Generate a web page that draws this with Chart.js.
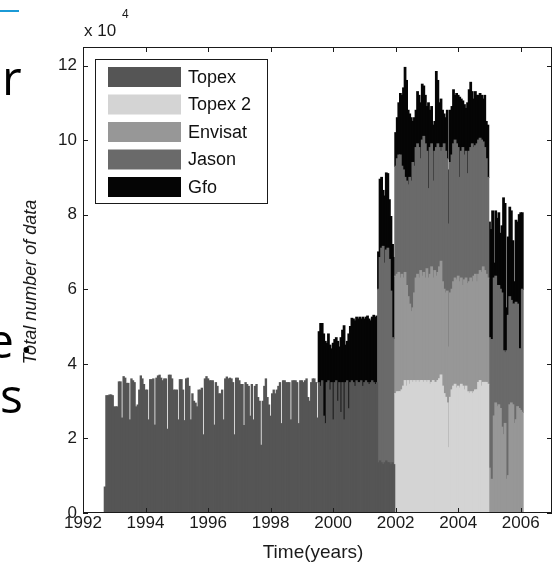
<!DOCTYPE html>
<html>
<head>
<meta charset="utf-8">
<script src="https://cdn.jsdelivr.net/npm/chart.js@4.4.0/dist/chart.umd.min.js"></script>
<style>
  html, body { margin: 0; padding: 0; background: #fff; }
  #wrap { position: relative; width: 559px; height: 565px; }
</style>
</head>
<body>
<div id="wrap"><canvas id="dataChart" width="559" height="565"></canvas></div>
<script>
// Total number of altimeter data per 0.05 yr bin, in units of 10^4
var seriesNames = ['Topex', 'Topex 2', 'Envisat', 'Jason', 'Gfo'];
var seriesColors = ['#555555', '#d4d4d4', '#979797', '#6a6a6a', '#050505'];
var seriesStart = [1992.70, 2002.00, 2002.00, 2001.45, 1999.55];  // first bin of each series

var xTicks = [1992, 1994, 1996, 1998, 2000, 2002, 2004, 2006];
var yTicks = [0, 2, 4, 6, 8, 10, 12];

var topex = [
    0.7, 3.15, 3.15, 3.17, 3.17, 3.15, 2.85, 2.85, 2.85, 3.52,
    3.52, 2.55, 3.66, 3.62, 3.48, 3.48, 2.5, 3.6, 3.55, 3.5,
    2.85, 2.9, 3.3, 3.68, 3.6, 3.45, 3.3, 3.3, 2.5, 3.58,
    3.58, 3.6, 2.36, 3.62, 3.68, 3.7, 3.62, 3.55, 3.6, 3.6,
    2.25, 3.7, 3.7, 3.6, 3.3, 3.3, 3.3, 2.5, 3.58, 3.58,
    3.3, 2.48, 3.6, 3.62, 3.4, 2.5, 3.2, 3.0, 2.95, 2.85,
    3.3, 3.3, 3.35, 2.1, 3.6, 3.66, 3.6, 3.55, 3.55, 3.55,
    2.36, 3.5, 3.4, 3.2, 3.2, 3.3, 2.5, 3.6, 3.65, 3.6,
    3.62, 3.6, 3.5, 2.1, 3.62, 3.62, 3.55, 3.45, 3.45, 2.35,
    3.5, 3.45, 3.4, 2.6, 3.45, 2.5, 3.4, 3.45, 3.1, 3.0,
    1.82, 3.0, 3.4, 3.6, 3.1, 2.9, 2.6, 3.2, 3.3, 3.2,
    3.3, 3.4, 3.5, 2.4, 3.55, 3.55, 3.5, 3.5, 3.5, 2.5,
    3.55, 3.55, 3.55, 3.5, 2.4, 3.55, 3.55, 3.5, 3.55, 3.6,
    3.1, 3.0, 3.5, 3.6, 3.6, 3.5, 2.55, 3.5, 3.4, 3.55,
    2.6, 2.4, 3.5, 3.55, 3.3, 3.5, 2.5, 3.5, 3.55, 3.0,
    3.5, 2.7, 3.5, 2.5, 3.5, 3.55, 2.8, 3.5, 3.55, 3.5,
    3.4, 3.55, 3.5, 3.5, 3.55, 3.4, 3.5, 3.55, 3.5, 3.45,
    3.5, 3.55, 3.5, 3.45, 3.5, 1.35, 1.4, 1.35, 1.3, 1.35,
    1.4, 1.35, 1.35, 1.3, 1.35, 1.3
];

var topex2 = [
    3.2, 3.25, 3.25, 3.25, 3.3, 3.4, 3.55, 3.4, 3.55, 3.45,
    3.55, 3.5, 3.55, 3.5, 3.55, 3.5, 3.55, 3.55, 3.5, 3.55,
    3.5, 3.55, 3.45, 3.5, 3.55, 3.5, 3.5, 3.55, 3.6, 3.7,
    3.4, 3.2, 3.1, 2.95, 1.75, 3.1, 3.3, 3.4, 3.45, 3.35,
    3.4, 3.35, 3.45, 3.4, 3.3, 3.4, 3.25, 3.2, 3.25, 3.2,
    3.25, 3.3, 3.3, 3.5, 3.55, 3.4, 3.5, 3.5, 3.5, 3.45
];

var envisat = [
    3.15, 3.15, 3.2, 3.05, 3.1, 2.9, 2.9, 2.7, 2.25, 2.15,
    1.85, 2.0, 2.35, 2.8, 2.85, 2.8, 2.95, 2.8, 2.95, 2.75,
    3.05, 2.75, 2.95, 3.1, 2.75, 3.0, 2.85, 2.9, 3.0, 3.05,
    2.8, 2.8, 2.8, 3.0, 2.7, 2.8, 2.7, 2.8, 2.85, 2.9,
    2.95, 2.85, 2.85, 2.7, 2.95, 2.9, 2.9, 3.0, 3.05, 3.0,
    3.1, 3.1, 2.9, 2.9, 2.95, 3.05, 3.1, 3.0, 2.9, 2.85,
    1.2, 0.9, 0.9, 2.6, 2.95, 2.85, 2.9, 2.8, 2.3, 2.1,
    2.4, 0.9, 1.0, 2.9, 2.95, 2.9, 2.4, 2.5, 2.85, 2.8,
    2.75, 2.7
];

var jason = [
    4.65, 5.45, 5.75, 5.85, 5.35, 5.65, 5.75, 5.45, 4.65, 3.35,
    3.35,
    2.95, 3.1, 3.15, 3.3, 2.9, 2.9, 2.55, 2.8, 3.0, 3.4,
    3.5, 3.9, 3.4, 3.5, 3.5, 3.5, 3.0, 3.65, 3.65, 3.6,
    3.15, 2.4, 3.4, 3.3, 2.6, 3.2, 3.45, 3.45, 3.2, 2.95,
    3.6, 3.9, 3.8, 3.55, 3.3, 3.5, 3.6, 3.7, 3.7, 3.65,
    3.45, 2.8, 3.4, 3.7, 3.35, 3.4, 2.95, 3.5, 3.5, 3.7,
    3.45, 3.45, 3.7, 3.6, 3.55, 3.55, 3.35, 3.3, 3.1, 2.7,
    3.5, 3.75, 3.75, 3.7, 3.4, 3.25, 3.2, 3.2, 3.6, 2.25,
    1.9, 3.45, 4.3, 2.9, 2.75, 2.7, 3.2, 3.15, 2.75, 1.6,
    1.65, 3.3
];

var gfo = [
    1.36, 1.68, 1.53, 2.2, 2.2, 1.05, 1.25, 1.2, 0.9, 2.05,
    1.15, 1.15, 1.6, 0.95, 2.0, 1.4, 2.52, 1.0, 1.05, 2.0,
    1.5, 1.67, 1.7, 1.75, 1.7, 1.7, 1.75, 1.65, 1.85, 1.7,
    1.7, 1.78, 1.75, 1.65, 1.7, 1.8, 1.8, 1.78, 1.0, 2.1,
    1.9, 1.5, 1.8, 2.07, 2.0, 1.6, 2.0, 2.5, 2.2,
    0.9, 1.1, 1.4, 1.65, 1.9, 2.2, 2.95, 2.7, 2.0, 1.7,
    1.7, 1.1, 1.3, 1.0, 1.4, 1.4, 1.5, 1.5, 1.35, 1.3,
    1.2, 2.3, 1.0, 1.0, 1.5, 0.8, 2.04, 1.7, 1.2, 1.4,
    1.0, 0.8, 0.9, 1.3, 1.45, 1.4, 1.3, 1.45, 1.2, 1.35,
    1.4, 2.15, 1.4, 1.25, 1.35, 1.15, 1.9, 1.65, 1.75, 1.4,
    1.3, 1.45, 1.3, 1.2, 1.2, 1.2, 1.15, 1.4, 1.0, 1.4,
    3.1, 2.95, 3.45, 0.4, 1.75, 1.8, 1.95, 1.5, 1.8, 4.1,
    4.0, 1.15, 2.1, 2.4, 2.4, 1.7, 0.6, 2.2, 2.2, 3.6,
    3.65, 2.05
];

var seriesValues = [topex, topex2, envisat, jason, gfo];

// same integer bin -> identical x, so the bars stack
function toPoints(start, values) {
    var first = Math.round((start - 1992) * 20);
    return values.map(function (v, k) {
        return { x: 1992 + (first + k) / 20, y: v };
    });
}

var datasets = seriesNames.map(function (name, i) {
    return {
        label: name,
        data: toPoints(seriesStart[i], seriesValues[i]),
        backgroundColor: seriesColors[i],
        borderWidth: 0,
        inflateAmount: i === 0 ? 0.4 : 0.6,
        barPercentage: 1,
        categoryPercentage: 1
    };
});

var FONT = '"Liberation Sans", Arial, sans-serif';

// MATLAB-style box, inward ticks, legend, titles and the slide leftovers
var matlabFrame = {
    id: 'matlabFrame',
    afterDatasetsDraw: function (chart) {
        var ctx = chart.ctx, a = chart.chartArea;
        var xs = chart.scales.x, ys = chart.scales.y;
        ctx.save();
        ctx.strokeStyle = '#1a1a1a';
        ctx.lineWidth = 1;
        ctx.strokeRect(a.left + 0.5, a.top + 0.5, a.right - a.left - 1, a.bottom - a.top - 1);
        ctx.beginPath();
        xTicks.forEach(function (t) {
            var px = Math.round(xs.getPixelForValue(t)) + 0.5;
            ctx.moveTo(px, a.bottom); ctx.lineTo(px, a.bottom - 5);
            ctx.moveTo(px, a.top); ctx.lineTo(px, a.top + 5);
        });
        yTicks.forEach(function (t) {
            var py = Math.round(ys.getPixelForValue(t)) + 0.5;
            ctx.moveTo(a.left, py); ctx.lineTo(a.left + 5, py);
            ctx.moveTo(a.right, py); ctx.lineTo(a.right - 5, py);
        });
        ctx.stroke();

        // legend
        ctx.fillStyle = '#fff';
        ctx.fillRect(95, 59, 173, 145);
        ctx.strokeRect(95.5, 59.5, 172, 144);
        ctx.font = '18px ' + FONT;
        ctx.textBaseline = 'middle';
        seriesNames.forEach(function (name, i) {
            var cy = 77 + i * 27.5;
            ctx.fillStyle = seriesColors[i];
            ctx.fillRect(108, cy - 10, 73, 20);
            ctx.fillStyle = '#111';
            ctx.fillText(name, 188, cy + 1);
        });

        // axis titles
        ctx.fillStyle = '#1a1a1a';
        ctx.textAlign = 'center';
        ctx.textBaseline = 'alphabetic';
        ctx.font = '19px ' + FONT;
        ctx.fillText('Time(years)', 313, 558);
        ctx.save();
        ctx.translate(36, 282);
        ctx.rotate(-Math.PI / 2);
        ctx.font = 'italic 18px ' + FONT;
        ctx.fillText('Total number of data', 0, 0);
        ctx.restore();

        // exponent
        ctx.textAlign = 'left';
        ctx.font = '17px ' + FONT;
        ctx.fillText('x 10', 84, 36);
        ctx.font = '12px ' + FONT;
        ctx.fillText('4', 122, 18);

        // leftovers of the slide this figure was cut from
        ctx.fillStyle = '#1b9ad6';
        ctx.fillRect(0, 10, 19, 2);
        ctx.fillStyle = '#000';
        ctx.font = '48px "Open Sans", sans-serif';
        ctx.fillText('r', 2, 95);
        ctx.fillText('e', -13, 358);
        ctx.fillText('.', 20, 353);
        ctx.fillText('s', 0, 413);
        ctx.restore();
    }
};

var ctx1 = document.getElementById('dataChart').getContext('2d');
var dataChart = new Chart(ctx1, {
    type: 'bar',
    data: { datasets: datasets },
    options: {
        responsive: false,
        animation: false,
        events: [],
        layout: { padding: { left: 0, right: 7, top: 47, bottom: 0 } },
        plugins: {
            legend: { display: false },
            tooltip: { enabled: false },
            title: { display: false }
        },
        scales: {
            x: {
                type: 'linear',
                min: 1992,
                max: 2007,
                offset: false,
                stacked: true,
                grid: { display: false, drawTicks: false },
                border: { display: false },
                afterBuildTicks: function (s) { s.ticks = xTicks.map(function (v) { return { value: v }; }); },
                ticks: {
                    autoSkip: false,
                    maxRotation: 0,
                    padding: 0,
                    color: '#1a1a1a',
                    font: { family: FONT, size: 17 },
                    callback: function (v) { return String(v); }
                },
                afterFit: function (s) { s.height = 52; }
            },
            y: {
                min: 0,
                max: 12.5,
                stacked: true,
                grid: { display: false, drawTicks: false },
                border: { display: false },
                afterBuildTicks: function (s) { s.ticks = yTicks.map(function (v) { return { value: v }; }); },
                ticks: {
                    padding: 6,
                    color: '#1a1a1a',
                    font: { family: FONT, size: 17 },
                    callback: function (v) { return String(v); }
                },
                afterFit: function (s) { s.width = 83; }
            }
        }
    },
    plugins: [matlabFrame]
});
</script>
</body>
</html>
